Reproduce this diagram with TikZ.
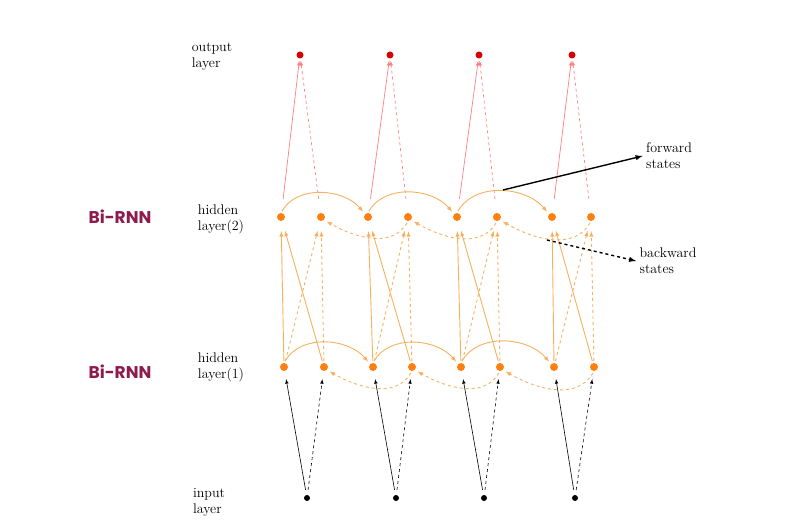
\documentclass[tikz,border=0pt]{standalone}
\usepackage{fontspec}
\newfontfamily\bifont{Poppins}
\definecolor{biC}{HTML}{8E1B4E}
\definecolor{lnO}{HTML}{F7B060}
\definecolor{ndO}{HTML}{FF8010}
\begin{document}
\begin{tikzpicture}[x=1pt,y=-1pt,
 hn/.style={circle,fill=ndO,inner sep=0pt,minimum size=8pt},
 on/.style={circle,fill=red!85!black,inner sep=0pt,minimum size=7pt},
 inn/.style={circle,fill=black,inner sep=0pt,minimum size=6pt},
 lab/.style={align=left,font=\fontsize{14}{16}\selectfont},
 oc/.style={lnO,line width=0.9pt,-latex,shorten >=3pt,shorten <=2pt},
 rc/.style={red!50,line width=0.7pt,-latex,shorten >=2pt,shorten <=14pt},
 kc/.style={black,line width=0.6pt,-latex,shorten >=8pt,shorten <=5pt},
 bi/.style={font=\bifont\bfseries\fontsize{17}{18}\selectfont,text=biC}]
\useasboundingbox (0,0) rectangle (800,526);
\foreach \i/\of/\ob/\ff/\fb/\o/\in in {1/281/321/284/324/300/307, 2/368/408/373/412/390/396, 3/457/497/461/500/479/484, 4/552/591/554/594/572/575}{
 \node[hn] (f2\i) at (\of,217) {};
 \node[hn] (b2\i) at (\ob,217) {};
 \node[hn] (f1\i) at (\ff,367) {};
 \node[hn] (b1\i) at (\fb,367) {};
 \node[on] (o\i) at (\o,55) {};
 \node[inn] (x\i) at (\in,498) {};
 \draw[rc] (f2\i) -- (o\i);
 \draw[rc,dashed] (b2\i) -- (o\i);
 \draw[kc] (x\i) -- (f1\i);
 \draw[kc,dashed] (x\i) -- (b1\i);
 \draw[oc,shorten >=10pt] (f1\i) -- (f2\i);
 \draw[oc,shorten >=10pt] (b1\i) -- (f2\i);
 \draw[oc,dashed,shorten >=10pt] (f1\i) -- (b2\i);
 \draw[oc,dashed,shorten >=10pt] (b1\i) -- (b2\i);
}
\foreach \a/\b in {1/2,2/3,3/4}{
 \draw[oc] (f2\a.north) to[out=60,in=130] (f2\b.north west);
 \draw[oc,dashed] (b2\b.south) to[out=-120,in=-30] (b2\a.south east);
 \draw[oc] (f1\a.north) to[out=60,in=130] (f1\b.north west);
 \draw[oc,dashed] (b1\b.south) to[out=-120,in=-30] (b1\a.south east);
}
\node[lab] (lo) at (212,57) {output\\layer};
\node[lab] (lh2) at (221,219) {hidden\\layer(2)};
\node[lab] (lh1) at (221,367) {hidden\\layer(1)};
\node[lab] (li) at (209,502) {input\\layer};
\node[bi] (bi2) at (120,217) {Bi-RNN};
\node[bi] (bi1) at (120,372) {Bi-RNN};
\node[lab] (fs) at (669,156) {forward\\states};
\node[lab] (bs) at (668,261) {backward\\states};
\coordinate (fa) at (503,190);
\coordinate (ba) at (547,240);
\draw[line width=1.4pt,-latex] (fa) -- (fs.west);
\draw[line width=1.4pt,dashed,-latex] (ba) -- (bs.west);
\end{tikzpicture}
\end{document}
